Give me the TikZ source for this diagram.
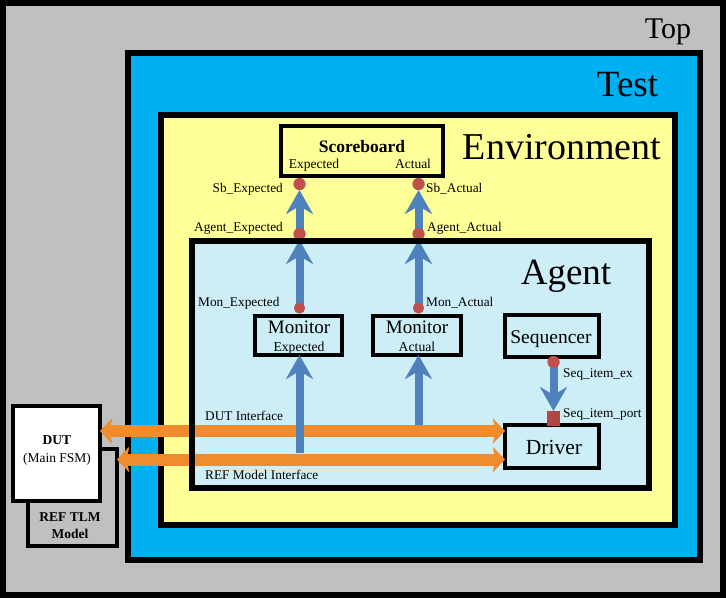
\documentclass[tikz,border=0pt]{standalone}
\usepackage{fontspec}
\setmainfont{Liberation Serif}
\usetikzlibrary{arrows.meta}
\definecolor{topgray}{RGB}{192,192,192}
\definecolor{testblue}{RGB}{0,176,240}
\definecolor{envyellow}{RGB}{255,255,153}
\definecolor{agentcyan}{RGB}{205,238,247}
\definecolor{arrowblue}{RGB}{79,129,189}
\definecolor{portred}{RGB}{192,80,77}
\definecolor{ifaceorange}{RGB}{240,140,45}
\tikzset{
  container/.style={draw=black, line width=6pt, inner sep=0pt, outer sep=0pt},
  compbox/.style={draw=black, line width=4pt, inner sep=0pt, outer sep=0pt, align=center},
  title/.style={anchor=base, inner sep=0pt},
  lbl/.style={inner sep=0pt, font=\fontsize{13.3}{15}\selectfont},
  portdot/.style={circle, fill=portred, inner sep=0pt, minimum size=12pt, outer sep=0pt},
  portsq/.style={rectangle, fill=portred!90!black, inner sep=0pt, minimum width=13pt, minimum height=15pt, outer sep=0pt},
  bluearrow/.style={draw=arrowblue, line width=8pt, -{Stealth[length=24pt, width=27pt, inset=8pt]}},
  orangearrow/.style={draw=ifaceorange, line width=12pt, {Stealth[length=12pt, width=25pt, inset=2pt]}-{Stealth[length=12pt, width=25pt, inset=2pt]}},
}
\begin{document}
\begin{tikzpicture}[x=1pt, y=-1pt]
\useasboundingbox (0,0) rectangle (726,598);
% containers
\node[container, fill=topgray, minimum width=720pt, minimum height=592pt] (top) at (363,299) {};
\node[container, fill=testblue, minimum width=572pt, minimum height=507pt] (test) at (414,306.5) {};
\node[container, fill=envyellow, minimum width=514pt, minimum height=410pt] (env) at (418,320) {};
\node[inner sep=0pt, outer sep=0pt, fill=agentcyan, minimum width=457pt, minimum height=247pt] (agentfill) at (420.5,364.5) {};
% titles
\node[title, font=\fontsize{30}{30}\selectfont] (toptitle) at (668,38) {Top};
\node[title, font=\fontsize{37}{37}\selectfont] (testtitle) at (627.5,96) {Test};
\node[title, font=\fontsize{38}{38}\selectfont] (envtitle) at (562,159) {Environment};
\node[title, font=\fontsize{37}{37}\selectfont] (agenttitle) at (566,284) {Agent};
% REF TLM and DUT
\node[draw=black, line width=4pt, fill=topgray, inner sep=0pt, outer sep=0pt, minimum width=89pt, minimum height=97pt] (ref) at (72.5,497.5) {};
\node[inner sep=0pt, anchor=base, font=\bfseries\fontsize{13.5}{15}\selectfont] (reft1) at (70,521) {REF TLM};
\node[inner sep=0pt, anchor=base, font=\bfseries\fontsize{13.5}{15}\selectfont] (reft2) at (70,538) {Model};
\node[compbox, fill=white, minimum width=87pt, minimum height=95pt] (dut) at (56.5,453.5) {};
\node[inner sep=0pt, anchor=base, font=\bfseries\fontsize{13.5}{15}\selectfont] (dutt1) at (57,444) {DUT};
\node[inner sep=0pt, anchor=base, font=\fontsize{13.5}{15}\selectfont] (dutt2) at (57,462) {(Main FSM)};
% scoreboard
\node[compbox, fill=envyellow, minimum width=162pt, minimum height=50pt] (sb) at (362,151) {};
\node[inner sep=0pt, anchor=base, font=\bfseries\fontsize{17.5}{19}\selectfont] (sbt) at (362,152) {Scoreboard};
\node[inner sep=0pt, anchor=base, font=\fontsize{13.5}{15}\selectfont] (sbe) at (314,168) {Expected};
\node[inner sep=0pt, anchor=base, font=\fontsize{13.5}{15}\selectfont] (sba) at (413,168) {Actual};
% monitors, sequencer, driver
\node[compbox, fill=agentcyan, minimum width=87pt, minimum height=39pt] (mone) at (298.5,335.5) {};
\node[inner sep=0pt, anchor=base, font=\fontsize{19}{21}\selectfont] (monet) at (299,333) {Monitor};
\node[inner sep=0pt, anchor=base, font=\fontsize{13.7}{15}\selectfont] (monet2) at (299,351) {Expected};
\node[compbox, fill=agentcyan, minimum width=88pt, minimum height=39pt] (mona) at (417,335.5) {};
\node[inner sep=0pt, anchor=base, font=\fontsize{19}{21}\selectfont] (monat) at (417,333) {Monitor};
\node[inner sep=0pt, anchor=base, font=\fontsize{13.7}{15}\selectfont] (monat2) at (417,351) {Actual};
\node[compbox, fill=agentcyan, minimum width=94pt, minimum height=42pt] (seq) at (552,336) {};
\node[inner sep=0pt, anchor=base, font=\fontsize{19.5}{21}\selectfont] (seqt) at (551,343) {Sequencer};
\node[compbox, fill=agentcyan, minimum width=94pt, minimum height=43pt] (drv) at (552,446.5) {};
\node[inner sep=0pt, anchor=base, font=\fontsize{21.5}{23}\selectfont] (drvt) at (554,454) {Driver};
% interface arrows
\coordinate (dutif) at (0,431);
\coordinate (refif) at (0,459.5);
\draw[orangearrow] (dut.east |- dutif) -- (drv.west |- dutif);
\draw[orangearrow] (ref.east |- refif) -- (drv.west |- refif);
\node[lbl, anchor=base west] (dutiflbl) at (205,420) {DUT Interface};
\node[lbl, anchor=base west] (refiflbl) at (205,479) {REF Model Interface};
% ports
\coordinate (monEin) at (299.5,453);
\coordinate (monAin) at (418.5,425);
\node[portdot] (agE) at (299.5,234) {};
\node[portdot] (agA) at (418.5,234) {};
\node[portdot] (sbE) at (299.5,184) {};
\node[portdot] (sbA) at (418.5,184) {};
\node[portdot, minimum size=11pt] (monEp) at (299.5,308) {};
\node[portdot, minimum size=11pt] (monAp) at (418.5,308) {};
\node[portdot] (seqEx) at (553.5,362) {};
\node[portsq] (seqPort) at (553.5,418.5) {};
% blue arrows
\draw[bluearrow] (monEin) -- (monEin |- mone.south);
\draw[bluearrow] (monAin) -- (monAin |- mona.south);
\draw[bluearrow, shorten >=6pt] (monEp.center) -- (agE.center);
\draw[bluearrow, shorten >=6pt] (monAp.center) -- (agA.center);
\draw[bluearrow] (agE.center) -- (sbE.south);
\draw[bluearrow] (agA.center) -- (sbA.south);
\draw[bluearrow] (seqEx.center) -- (seqPort.north);
% redraw dots on top
\node[portdot] at (agE) {};
\node[portdot] at (agA) {};
\node[portdot] at (sbE) {};
\node[portdot] at (sbA) {};
\node[portdot, minimum size=11pt] at (monEp) {};
\node[portdot, minimum size=11pt] at (monAp) {};
\node[portdot] at (seqEx) {};
\node[portsq] at (seqPort) {};
% agent border
\node[container, minimum width=457pt, minimum height=247pt] (agent) at (420.5,364.5) {};
% port labels
\node[lbl, anchor=base east] (sbElbl) at (283,192) {Sb\_Expected};
\node[lbl, anchor=base west] (sbAlbl) at (426,192) {Sb\_Actual};
\node[lbl, anchor=base east] (agElbl) at (283,231) {Agent\_Expected};
\node[lbl, anchor=base west] (agAlbl) at (427,231) {Agent\_Actual};
\node[lbl, anchor=base west] (monElbl) at (198,306) {Mon\_Expected};
\node[lbl, anchor=base west] (monAlbl) at (426,306) {Mon\_Actual};
\node[lbl, anchor=base west] (seqExlbl) at (563,377) {Seq\_item\_ex};
\node[lbl, anchor=base west] (seqPortlbl) at (563,417) {Seq\_item\_port};
\end{tikzpicture}
\end{document}
